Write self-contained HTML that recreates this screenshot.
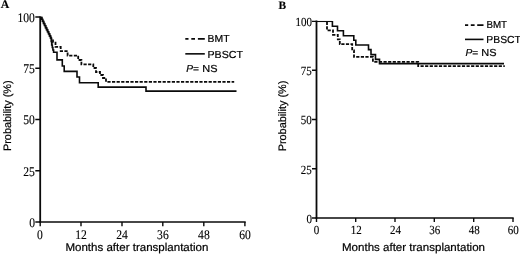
<!DOCTYPE html>
<html><head><meta charset="utf-8">
<style>
html,body{margin:0;padding:0;background:#fff;}
body{width:520px;height:255px;overflow:hidden;}
svg{display:block;text-rendering:geometricPrecision;}
.ser{font-family:"Liberation Serif",serif;font-size:13.2px;fill:#000;stroke:#000;stroke-width:0.12px;}
.san{font-family:"Liberation Sans",sans-serif;fill:#000;stroke:#000;stroke-width:0.2px;}
.ax{stroke:#0a0a0a;stroke-width:1.7;fill:none;}
.cv{stroke:#0a0a0a;stroke-width:1.6;fill:none;}
.ds{stroke-dasharray:3.2,1.4;stroke-width:1.8;}
</style></head><body>
<svg width="520" height="255" viewBox="0 0 520 255">
<rect width="520" height="255" fill="#fff"/>
<!-- ===== Panel A ===== -->
<text class="ser" x="0.7" y="8.4" font-weight="bold" style="font-size:11.8px">A</text>
<g class="ax">
<path stroke-width="1.8" d="M40.2,16.4V222.6"/><path stroke-width="1.5" d="M39.3,222H245.7"/>
<path stroke-width="1.4" d="M35.3,17H40 M35.3,68.25H40 M35.3,119.5H40 M35.3,170.75H40 M35.3,222H40"/>
<path stroke-width="1.4" d="M40.2,222V226.2 M81,222V226.2 M122,222V226.2 M162.8,222V226.2 M203.8,222V226.2 M244.9,222V226.2"/>
</g>
<g class="ser" text-anchor="end">
<text x="34.9" y="21.8" textLength="17.4" lengthAdjust="spacingAndGlyphs">100</text>
<text x="34.9" y="73.05" textLength="11.6" lengthAdjust="spacingAndGlyphs">75</text>
<text x="34.9" y="124.3" textLength="11.6" lengthAdjust="spacingAndGlyphs">50</text>
<text x="34.9" y="175.55" textLength="11.6" lengthAdjust="spacingAndGlyphs">25</text>
<text x="35.1" y="226.8" textLength="5.8" lengthAdjust="spacingAndGlyphs">0</text>
</g>
<g class="ser" text-anchor="middle">
<text x="39.8" y="238.7" textLength="5.8" lengthAdjust="spacingAndGlyphs">0</text>
<text x="81.1" y="238.7" textLength="11.6" lengthAdjust="spacingAndGlyphs">12</text>
<text x="122.1" y="238.7" textLength="11.6" lengthAdjust="spacingAndGlyphs">24</text>
<text x="162.9" y="238.7" textLength="11.6" lengthAdjust="spacingAndGlyphs">36</text>
<text x="203.9" y="238.7" textLength="11.6" lengthAdjust="spacingAndGlyphs">48</text>
<text x="245.1" y="238.7" textLength="11.6" lengthAdjust="spacingAndGlyphs">60</text>
</g>
<text class="san" font-size="11.3" x="65.4" y="251.3" textLength="143" lengthAdjust="spacingAndGlyphs">Months after transplantation</text>
<text class="san" font-size="10.8" transform="translate(10.9,151) rotate(-90)" textLength="70.6" lengthAdjust="spacingAndGlyphs">Probability (%)</text>
<!-- curves A -->
<path class="cv" d="M40,17.5H41.6V19.2H42.4V21.3H43.4V23.4H44.4V25.5H45.4V27.6H46.4V29.6H47.4V31.7H48.4V33.8H49.4V35.9H50.4V38H51.2V41.5H51.7V45H52.3V47.5H52.9V50H53.6V52.2H57V59.9H62.3V66H64.2V71.4H77V77H79.5V82.8H98.2V87.1H146V91.1H236.5"/>
<path class="cv" style="stroke-width:1.3" d="M40,17.5H42V19.4H42.9V21.5H43.9V23.6H44.9V25.7H45.9V27.8H46.9V29.8H47.9V31.9H48.9V34H49.9V36.1H50.9V38.2H51.7V40.5H52.1"/>
<path class="cv ds" d="M52.1,40.5H53V42.6H55.5V46.9H60.7V51.2H67.6V55.6H78.2V60H81.4V64.3H93.3V68H96V72H100V75H103V78H106V81.8H234.2"/>
<!-- legend A -->
<path class="cv" d="M185.3,38.9H204.8" stroke-dasharray="3.2,2.8,3.7,2.9,7,10"/>
<path class="cv" d="M185.3,53.85H204.8"/>
<g class="san" font-size="10.2">
<text x="207.5" y="42.4" textLength="22" lengthAdjust="spacingAndGlyphs">BMT</text>
<text x="207.4" y="57.6" textLength="35.6" lengthAdjust="spacingAndGlyphs">PBSCT</text>
<text x="186.2" y="71.6"><tspan font-style="italic">P</tspan>=</text>
<text x="202.3" y="71.5" textLength="15.2" lengthAdjust="spacingAndGlyphs">NS</text>
</g>

<!-- ===== Panel B ===== -->
<text class="ser" x="278.5" y="8.9" font-weight="bold" style="font-size:11.4px">B</text>
<g class="ax">
<path stroke-width="1.8" d="M316.5,20.5V218.6"/><path stroke-width="1.5" d="M315.6,218H513.7"/>
<path stroke-width="1.4" d="M312,21.4H316.3 M312,70.3H316.3 M312,119.55H316.3 M312,168.8H316.3 M312,218H316.3"/>
<path stroke-width="1.4" d="M316.5,218V222 M355.7,218V222 M395,218V222 M434.3,218V222 M473.7,218V222 M513,218V222"/>
</g>
<g class="ser" text-anchor="end" style="font-size:12.5px">
<text x="311.9" y="25.9" textLength="16.4" lengthAdjust="spacingAndGlyphs">100</text>
<text x="311.7" y="75.2" textLength="11.0" lengthAdjust="spacingAndGlyphs">75</text>
<text x="311.7" y="124.45" textLength="11.0" lengthAdjust="spacingAndGlyphs">50</text>
<text x="311.7" y="173.7" textLength="11.0" lengthAdjust="spacingAndGlyphs">25</text>
<text x="311.9" y="222.9" textLength="5.5" lengthAdjust="spacingAndGlyphs">0</text>
</g>
<g class="ser" text-anchor="middle" style="font-size:12.5px">
<text x="316.5" y="234.1" textLength="5.5" lengthAdjust="spacingAndGlyphs">0</text>
<text x="356.3" y="234.1" textLength="11.0" lengthAdjust="spacingAndGlyphs">12</text>
<text x="395.5" y="234.1" textLength="11.0" lengthAdjust="spacingAndGlyphs">24</text>
<text x="434.8" y="234.1" textLength="11.0" lengthAdjust="spacingAndGlyphs">36</text>
<text x="474.2" y="234.1" textLength="11.0" lengthAdjust="spacingAndGlyphs">48</text>
<text x="513.3" y="234.1" textLength="11.0" lengthAdjust="spacingAndGlyphs">60</text>
</g>
<text class="san" font-size="11.3" x="342" y="251.25" textLength="143" lengthAdjust="spacingAndGlyphs">Months after transplantation</text>
<text class="san" font-size="10.8" transform="translate(285.8,151.3) rotate(-90)" textLength="70.6" lengthAdjust="spacingAndGlyphs">Probability (%)</text>
<!-- curves B -->
<path class="cv" style="stroke-width:1.1" d="M316.3,21.5H332.4"/>
<path class="cv" d="M331.6,21.7H332.4V26.2H337.5V30.8H343.4V35.8H353.8V40.3H355.8V45H368.5V49.6H371V54.6H375.5V59.4H379.5V63.6H504"/>
<path class="cv ds" d="M327,21.7V30.3H333V34.9H337.8V39.4H339.8V44.2H352.2V50.4H354V56.9H372.9V61.8H418.2V66.2H504.8"/>
<!-- legend B -->
<path class="cv" d="M465,25.1H483.5" stroke-dasharray="3.2,2.6,3.8,2.6,6.4,10"/>
<path class="cv" d="M465,39.4H483.5"/>
<g class="san" font-size="10.2">
<text x="486.4" y="28.3" textLength="20.7" lengthAdjust="spacingAndGlyphs">BMT</text>
<text x="486.3" y="42.7" textLength="34.6" lengthAdjust="spacingAndGlyphs">PBSCT</text>
<text x="465.4" y="55.7"><tspan font-style="italic">P</tspan>=</text>
<text x="481.3" y="55.7" textLength="15.2" lengthAdjust="spacingAndGlyphs">NS</text>
</g>
</svg>
</body></html>
